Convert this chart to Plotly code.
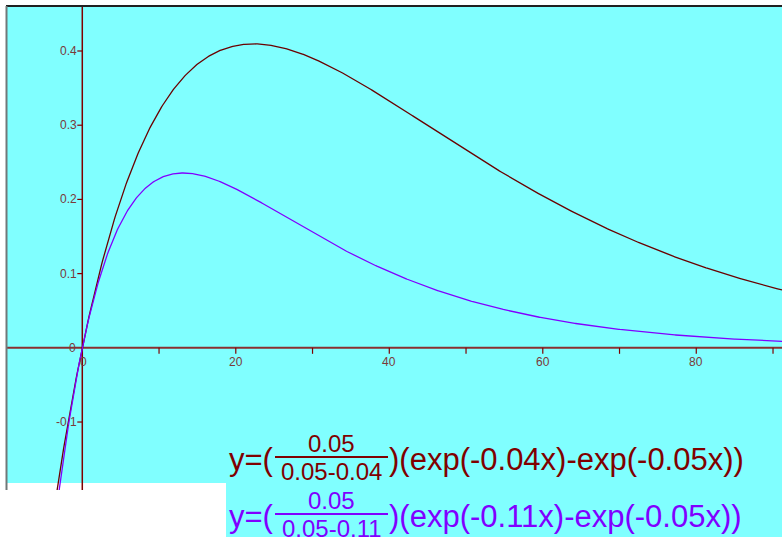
import numpy as np
import plotly.graph_objects as go

# ---- data ----
dose = 0.05                       # numerator constant
k_elim = 0.05                     # common rate in both curves
k_curve1 = 0.04                   # first curve rate
k_curve2 = 0.11                   # second curve rate
x_major_ticks = [20, 40, 60, 80]
x_minor_ticks = [10, 30, 50, 70, 90]
y_ticks = [-0.1, 0.1, 0.2, 0.3, 0.4]
y_tick_labels = ["-0.1", "0.1", "0.2", "0.3", "0.4"]
x_range = [-9.81, 91.17]
y_range = [-0.1916, 0.4593]

# ---- layout geometry (pixels) ----
W, H = 782, 537
L, T, PB = 7, 7, 490
PW, PH = W - L, PB - T

def px(xp):
    return (xp - L) / PW

def py(yp):
    return (PB - yp) / PH

MAROON = "#800000"
PURPLE = "#8000FF"
CYAN = "#80FFFF"
TICKCOL = "#7a3a3a"

xs = np.linspace(-10, 92, 800)

def curve(k):
    return dose / (k_elim - k) * (np.exp(-k * xs) - np.exp(-k_elim * xs))

fig = go.Figure()
fig.add_trace(go.Scatter(x=xs, y=curve(k_curve1), mode="lines",
                         line=dict(color="#6a0000", width=1.3), hoverinfo="skip"))
fig.add_trace(go.Scatter(x=xs, y=curve(k_curve2), mode="lines",
                         line=dict(color=PURPLE, width=1.3), hoverinfo="skip"))

shapes = []
# white patch bottom-left of plot, cyan patch behind formulas
shapes.append(dict(type="rect", xref="paper", yref="paper", x0=px(7), x1=px(226),
                   y0=py(490), y1=py(483), fillcolor="white", line_width=0, layer="below"))
shapes.append(dict(type="rect", xref="paper", yref="paper", x0=px(226), x1=1,
                   y0=py(537), y1=py(490), fillcolor=CYAN, line_width=0, layer="below"))
# axes lines
shapes.append(dict(type="line", xref="paper", yref="y", x0=0, x1=1, y0=0, y1=0,
                   line=dict(color="#8a3030", width=2), layer="below"))
shapes.append(dict(type="line", xref="x", yref="paper", x0=0, x1=0, y0=0, y1=1,
                   line=dict(color=MAROON, width=1.5), layer="below"))
# frame lines
shapes.append(dict(type="line", xref="paper", yref="paper", x0=px(6), x1=1, y0=py(6), y1=py(6),
                   line=dict(color="#202020", width=2)))
shapes.append(dict(type="line", xref="paper", yref="paper", x0=px(6.5), x1=px(6.5), y0=0, y1=py(6),
                   line=dict(color="#707878", width=2)))
# x ticks
for t in x_major_ticks + x_minor_ticks:
    shapes.append(dict(type="line", xref="x", yref="y", ysizemode="pixel", yanchor=0,
                       x0=t, x1=t, y0=0, y1=-6, line=dict(color=MAROON, width=1.2)))
# y ticks
for t in y_ticks:
    shapes.append(dict(type="line", xref="x", yref="y", xsizemode="pixel", xanchor=0,
                       x0=0, x1=-5, y0=t, y1=t, line=dict(color=MAROON, width=1.2)))
# fraction bars
shapes.append(dict(type="line", xref="paper", yref="paper", x0=px(275), x1=px(388),
                   y0=py(457), y1=py(457), line=dict(color=MAROON, width=2)))
shapes.append(dict(type="line", xref="paper", yref="paper", x0=px(275), x1=px(388),
                   y0=py(514), y1=py(514), line=dict(color=PURPLE, width=2)))

ann = []
tickfont = dict(family="Liberation Sans Narrow, Liberation Sans, Arial", size=12, color=TICKCOL)
for t in x_major_ticks:
    ann.append(dict(x=t, y=0, xref="x", yref="y", text=str(t), showarrow=False,
                    xanchor="center", yanchor="middle", yshift=-14, font=tickfont))
ann.append(dict(x=0, y=0, xref="x", yref="y", text="0", showarrow=False,
                xanchor="center", yanchor="middle", yshift=-14, xshift=1, font=tickfont))
for t, lab in zip(y_ticks, y_tick_labels):
    ann.append(dict(x=0, y=t, xref="x", yref="y", text=lab, showarrow=False,
                    xanchor="right", yanchor="middle", xshift=-3, font=tickfont))
ann.append(dict(x=0, y=0, xref="x", yref="y", text="0", showarrow=False,
                xanchor="right", yanchor="middle", xshift=-4, font=tickfont))

big = 31
small = 24
fam = "Liberation Sans, Arial"
rows = [
    (459, MAROON, "0.05-0.04", ")(exp(-0.04x)-exp(-0.05x))"),
    (516, PURPLE, "0.05-0.11", ")(exp(-0.11x)-exp(-0.05x))"),
]
for i, (cy, col, den, rest) in enumerate(rows):
    ann.append(dict(x=px(227), y=py(cy), xref="paper", yref="paper", text="y=(",
                    showarrow=False, xanchor="left", yanchor="middle",
                    font=dict(family=fam, size=big, color=col)))
    ann.append(dict(x=px(331.5), y=py(cy - 15.5), xref="paper", yref="paper", text="0.05",
                    showarrow=False, xanchor="center", yanchor="middle",
                    font=dict(family=fam, size=small, color=col)))
    ann.append(dict(x=px(331.5), y=py(cy + 12.5), xref="paper", yref="paper", text=den,
                    showarrow=False, xanchor="center", yanchor="middle",
                    font=dict(family=fam, size=small, color=col)))
    ann.append(dict(x=px(387), y=py(cy), xref="paper", yref="paper", text=rest,
                    showarrow=False, xanchor="left", yanchor="middle",
                    font=dict(family=fam, size=big, color=col)))

fig.update_layout(
    width=W, height=H,
    margin=dict(l=L, r=0, t=T, b=H - PB, pad=0),
    paper_bgcolor="white", plot_bgcolor=CYAN,
    showlegend=False,
    xaxis=dict(range=x_range, visible=False, fixedrange=True),
    yaxis=dict(range=y_range, visible=False, fixedrange=True),
    shapes=shapes, annotations=ann,
)
fig.write_html("out.html", config={"displayModeBar": False})
